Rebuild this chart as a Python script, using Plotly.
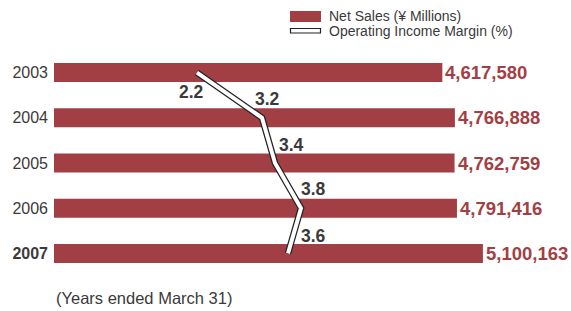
import plotly.graph_objects as go

years = ["2003", "2004", "2005", "2006", "2007"]
net_sales = [4617580, 4766888, 4762759, 4791416, 5100163]
op_margin = [2.2, 3.2, 3.4, 3.8, 3.6]
year_ticks = ["2003", "2004", "2005", "2006", "<b>2007</b>"]

BAR = "#a23f44"
TXT = "#3a3a3a"
FONT = "Liberation Sans, Arial, sans-serif"

W, H = 571, 311
L, R, T, B = 54, 0, 50, 35
plot_w = W - L - R
plot_h = H - T - B

ypos = list(range(len(years)))

fig = go.Figure()
fig.add_trace(go.Bar(
    y=ypos, x=net_sales, orientation="h", marker_color=BAR,
    marker_line_width=0, width=0.42, showlegend=False, hoverinfo="skip",
))
fig.add_trace(go.Scatter(
    y=ypos, x=op_margin, xaxis="x2", yaxis="y", mode="lines",
    line=dict(color="#222222", width=6.5), showlegend=False, hoverinfo="skip",
))
fig.add_trace(go.Scatter(
    y=ypos, x=op_margin, xaxis="x2", yaxis="y", mode="lines",
    line=dict(color="#ffffff", width=4), showlegend=False, hoverinfo="skip",
))

annotations = []
for i, v in zip(ypos, net_sales):
    annotations.append(dict(
        x=v, y=i, xref="x", yref="y", text=f"<b>{v:,}</b>", showarrow=False,
        xanchor="left", yanchor="middle", xshift=1,
        font=dict(family=FONT, size=18.5, color=BAR),
    ))

shifts = [(-6, -19.5), (5, 18.5), (16, 18.5), (12, 19.5), (25, 17)]
for i, v, (dx, dy) in zip(ypos, op_margin, shifts):
    annotations.append(dict(
        x=v, y=i, xref="x2", yref="y", text=f"<b>{v}</b>", showarrow=False,
        xanchor="center", yanchor="middle", xshift=dx, yshift=dy,
        font=dict(family=FONT, size=17.5, color=TXT),
    ))

def px(x):
    return (x - L) / plot_w

def py(y):
    return 1 - (y - T) / plot_h

shapes = [
    dict(type="rect", xref="paper", yref="paper", x0=px(290), x1=px(321),
         y0=py(22), y1=py(11), fillcolor=BAR, line_width=0),
    dict(type="rect", xref="paper", yref="paper", x0=px(290.5), x1=px(320.5),
         y0=py(33), y1=py(28.5), fillcolor="white", line=dict(color="#222", width=1.2)),
]
annotations.append(dict(xref="paper", yref="paper", x=px(327), y=py(16), text="Net Sales (¥ Millions)",
                        showarrow=False, xanchor="left", yanchor="middle",
                        font=dict(family=FONT, size=14, color=TXT)))
annotations.append(dict(xref="paper", yref="paper", x=px(327), y=py(31), text="Operating Income Margin (%)",
                        showarrow=False, xanchor="left", yanchor="middle",
                        font=dict(family=FONT, size=14, color=TXT)))
annotations.append(dict(xref="paper", yref="paper", x=px(54), y=py(298), text="(Years ended March 31)",
                        showarrow=False, xanchor="left", yanchor="middle",
                        font=dict(family=FONT, size=16.5, color=TXT)))

fig.update_layout(
    width=W, height=H, margin=dict(l=L, r=R, t=T, b=B, autoexpand=False),
    paper_bgcolor="white", plot_bgcolor="white",
    xaxis=dict(range=[0, plot_w / 8.41e-5], visible=False, fixedrange=True),
    xaxis2=dict(range=[0, plot_w / 65.0], overlaying="x", visible=False, fixedrange=True),
    yaxis=dict(range=[len(years) - 0.5, -0.5], tickmode="array", tickvals=ypos, ticktext=year_ticks,
               showgrid=False, zeroline=False, showline=False, ticks="", ticklabelstandoff=5,
               tickfont=dict(family=FONT, size=16, color=TXT), fixedrange=True),
    annotations=annotations, shapes=shapes,
)

fig.write_html("out.html", config={"displayModeBar": False},
               post_script="document.body.style.margin='0';document.body.style.padding='0';")
